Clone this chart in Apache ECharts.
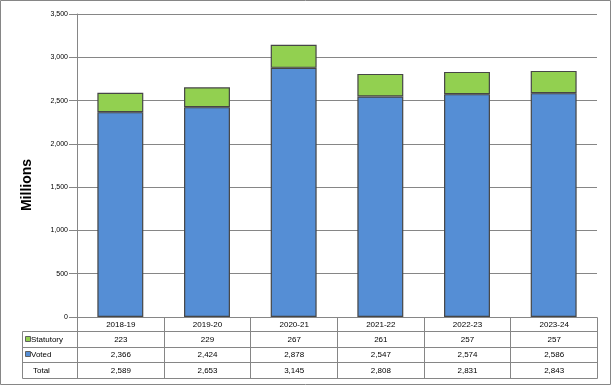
<!DOCTYPE html>
<html><head><meta charset="utf-8">
<script src="https://cdn.jsdelivr.net/npm/echarts@6/dist/echarts.min.js"></script>
<style>html,body{margin:0;padding:0;background:#fff}#c{width:612px;height:386px}</style>
</head><body><div id="c"></div>
<script>
const categories = ['2018-19','2019-20','2020-21','2021-22','2022-23','2023-24'];
const statutory = [223,229,267,261,257,257];
const voted = [2366,2424,2878,2547,2574,2586];
const total = [2589,2653,3145,2808,2831,2843];
const rowLabels = ['Statutory','Voted','Total'];
const axisTitle = 'Millions';
const yMax = 3500, yStep = 500;

const GREEN = '#92D050', BLUE = '#558ED5', EDGE = '#464646', GRID = '#868686';
const FONT = 'Liberation Sans, Arial, sans-serif';
const fmt = v => v.toLocaleString('en-US');

const chart = echarts.init(document.getElementById('c'), null, {renderer:'canvas'});
chart.setOption({
  animation:false,
  grid:{left:77,right:15,top:14,bottom:69},
  xAxis:{type:'category',data:categories,axisLabel:{show:false},axisTick:{show:false},
    axisLine:{show:false}},
  yAxis:{type:'value',min:0,max:yMax,interval:yStep,
    axisLine:{show:true,lineStyle:{color:GRID,width:1}},
    axisTick:{show:true,length:8,lineStyle:{color:GRID}},
    axisLabel:{margin:9,fontFamily:FONT,fontSize:7,color:'#000',formatter:v=>fmt(v)},
    splitLine:{lineStyle:{color:GRID,width:1}}},
  series:[
    {name:'Voted',type:'bar',stack:'t',data:voted,barWidth:'53%',
      itemStyle:{color:BLUE,borderColor:EDGE,borderWidth:1.2}},
    {name:'Statutory',type:'bar',stack:'t',data:statutory,barWidth:'53%',
      itemStyle:{color:GREEN,borderColor:EDGE,borderWidth:1.2}}
  ]
});

// table below the plot, positioned from the axes
const p0 = chart.convertToPixel({xAxisIndex:0}, categories[0]);
const p1 = chart.convertToPixel({xAxisIndex:0}, categories[1]);
const step = p1 - p0;
const xL = Math.round(p0 - step/2) + 0.5;
const y0 = Math.round(chart.convertToPixel({yAxisIndex:0}, 0)) + 0.5;
const xR = xL + step*categories.length;
const rowOff = [0,14,30,45,61];
const tableLeft = 22.5;
const g = [];
const line = (x1,y1,x2,y2)=>g.push({type:'line',shape:{x1,y1,x2,y2},style:{stroke:GRID,lineWidth:1},silent:true});
line(xL, y0, xR, y0);
for (let r=1;r<rowOff.length;r++) line(tableLeft, y0+rowOff[r], xR, y0+rowOff[r]);
line(tableLeft, y0+rowOff[1], tableLeft, y0+rowOff[4]);
for (let i=0;i<=categories.length;i++){
  const x = i===0 ? xL : Math.round(xL+step*i-0.5)+0.5;
  line(x, y0, x, y0+rowOff[4]);
}
const rowsData = [categories, statutory.map(fmt), voted.map(fmt), total.map(fmt)];
rowsData.forEach((row,r)=>{
  const cy = y0 + (rowOff[r]+rowOff[r+1])/2;
  row.forEach((t,i)=>g.push({type:'text',x:xL+step*(i+0.5),y:cy,
    style:{text:t,fontFamily:FONT,fontSize:8,fill:'#000',align:'center',verticalAlign:'middle'},silent:true}));
});
const keyColors = [GREEN, BLUE, null];
rowLabels.forEach((t,k)=>{
  const cy = y0 + (rowOff[k+1]+rowOff[k+2])/2;
  if (keyColors[k]) {
    g.push({type:'rect',shape:{x:25.5,y:Math.round(cy)-3.5,width:5,height:5},style:{fill:keyColors[k],stroke:'#606060',lineWidth:1},silent:true});
    g.push({type:'text',x:31,y:cy,style:{text:t,fontFamily:FONT,fontSize:8,fill:'#000',align:'left',verticalAlign:'middle'},silent:true});
  } else {
    g.push({type:'text',x:33,y:cy,style:{text:t,fontFamily:FONT,fontSize:8,fill:'#000',align:'left',verticalAlign:'middle'},silent:true});
  }
});
// axis title
g.push({type:'text',x:27.5,y:185,rotation:Math.PI/2,
  style:{text:axisTitle,fontFamily:FONT,fontWeight:'bold',fontSize:14,fill:'#000',align:'center',verticalAlign:'middle'},silent:true});
// outer frame
g.push({type:'rect',shape:{x:0.5,y:0.5,width:610,height:384},style:{fill:null,stroke:GRID,lineWidth:1},silent:true});
chart.setOption({graphic:g});
</script></body></html>
